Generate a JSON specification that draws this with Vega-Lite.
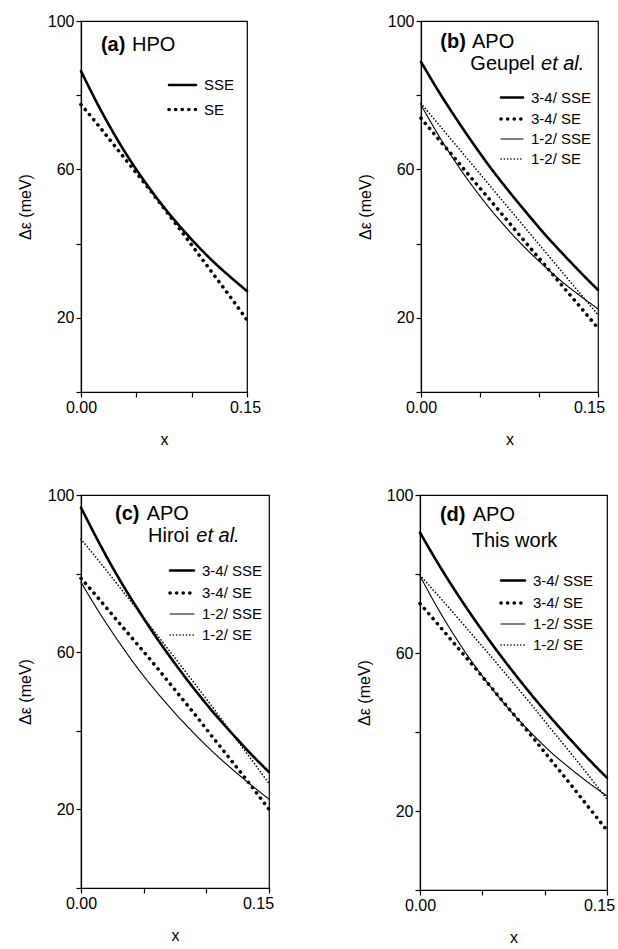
{
"$schema": "https://vega.github.io/schema/vega-lite/v6.json",
"background": "white",
"padding": {"left": 16, "top": 12, "right": 0, "bottom": 0},
"config": {
  "font": "Liberation Sans",
  "view": {"stroke": "black", "strokeWidth": 1.2},
  "axis": {"domainColor": "black", "tickColor": "black", "labelColor": "black", "titleColor": "black", "labelFontSize": 16, "titleFontSize": 16, "titleFontWeight": "normal", "grid": false, "tickSize": 5, "labelPadding": 2, "domainWidth": 1.2, "tickWidth": 1.2, "labelFont": "Liberation Sans", "titleFont": "Liberation Sans", "labelFlush": false},
  "axisY": {"titlePadding": 14},
  "axisX": {"titlePadding": 16},
  "legend": {"orient": "none", "symbolType": "stroke", "labelFontSize": 15, "labelFont": "Liberation Sans", "labelColor": "black", "symbolStrokeColor": "black", "padding": 0, "labelOffset": 6, "symbolSize": 576, "rowPadding": 0},
  "line": {"color": "black", "strokeCap": "round", "interpolate": "monotone"},
  "text": {"color": "black", "font": "Liberation Sans"}
},
"datasets": {
  "a": [
    {"x":0,"y":86.5,"s":"SSE"},{"x":0.015,"y":77.6,"s":"SSE"},{"x":0.03,"y":69.5,"s":"SSE"},{"x":0.045,"y":62.2,"s":"SSE"},{"x":0.06,"y":55.7,"s":"SSE"},{"x":0.075,"y":49.75,"s":"SSE"},{"x":0.09,"y":44.4,"s":"SSE"},{"x":0.105,"y":39.5,"s":"SSE"},{"x":0.12,"y":35.0,"s":"SSE"},{"x":0.135,"y":31.0,"s":"SSE"},{"x":0.15,"y":27.2,"s":"SSE"},
    {"x":0,"y":77.5,"s":"SE"},{"x":0.015,"y":72.1,"s":"SE"},{"x":0.03,"y":66.5,"s":"SE"},{"x":0.045,"y":60.9,"s":"SE"},{"x":0.06,"y":55.3,"s":"SE"},{"x":0.075,"y":49.5,"s":"SE"},{"x":0.09,"y":43.6,"s":"SE"},{"x":0.105,"y":37.6,"s":"SE"},{"x":0.12,"y":31.6,"s":"SE"},{"x":0.135,"y":25.6,"s":"SE"},{"x":0.15,"y":19.4,"s":"SE"}
  ],
  "b": [
    {"x":0,"y":89.0,"s":"3-4/ SSE"},{"x":0.015,"y":81.0,"s":"3-4/ SSE"},{"x":0.03,"y":73.6,"s":"3-4/ SSE"},{"x":0.045,"y":66.6,"s":"3-4/ SSE"},{"x":0.06,"y":60.0,"s":"3-4/ SSE"},{"x":0.075,"y":53.9,"s":"3-4/ SSE"},{"x":0.09,"y":48.1,"s":"3-4/ SSE"},{"x":0.105,"y":42.5,"s":"3-4/ SSE"},{"x":0.12,"y":37.3,"s":"3-4/ SSE"},{"x":0.135,"y":32.3,"s":"3-4/ SSE"},{"x":0.15,"y":27.5,"s":"3-4/ SSE"},
    {"x":0,"y":73.8,"s":"3-4/ SE"},{"x":0.015,"y":68.1,"s":"3-4/ SE"},{"x":0.03,"y":62.5,"s":"3-4/ SE"},{"x":0.045,"y":56.8,"s":"3-4/ SE"},{"x":0.06,"y":51.2,"s":"3-4/ SE"},{"x":0.075,"y":45.5,"s":"3-4/ SE"},{"x":0.09,"y":39.8,"s":"3-4/ SE"},{"x":0.105,"y":34.2,"s":"3-4/ SE"},{"x":0.12,"y":28.5,"s":"3-4/ SE"},{"x":0.135,"y":22.9,"s":"3-4/ SE"},{"x":0.15,"y":17.2,"s":"3-4/ SE"},
    {"x":0,"y":77.4,"s":"1-2/ SSE"},{"x":0.015,"y":69.1,"s":"1-2/ SSE"},{"x":0.03,"y":61.6,"s":"1-2/ SSE"},{"x":0.045,"y":54.9,"s":"1-2/ SSE"},{"x":0.06,"y":48.8,"s":"1-2/ SSE"},{"x":0.075,"y":43.3,"s":"1-2/ SSE"},{"x":0.09,"y":38.3,"s":"1-2/ SSE"},{"x":0.105,"y":33.8,"s":"1-2/ SSE"},{"x":0.12,"y":29.6,"s":"1-2/ SSE"},{"x":0.135,"y":25.9,"s":"1-2/ SSE"},{"x":0.15,"y":22.4,"s":"1-2/ SSE"},
    {"x":0,"y":77.8,"s":"1-2/ SE"},{"x":0.015,"y":72.1,"s":"1-2/ SE"},{"x":0.03,"y":66.4,"s":"1-2/ SE"},{"x":0.045,"y":60.7,"s":"1-2/ SE"},{"x":0.06,"y":55.0,"s":"1-2/ SE"},{"x":0.075,"y":49.3,"s":"1-2/ SE"},{"x":0.09,"y":43.6,"s":"1-2/ SE"},{"x":0.105,"y":37.9,"s":"1-2/ SE"},{"x":0.12,"y":32.2,"s":"1-2/ SE"},{"x":0.135,"y":26.5,"s":"1-2/ SE"},{"x":0.15,"y":20.8,"s":"1-2/ SE"}
  ],
  "c": [
    {"x":0,"y":96.8,"s":"3-4/ SSE"},{"x":0.015,"y":87.5,"s":"3-4/ SSE"},{"x":0.03,"y":78.9,"s":"3-4/ SSE"},{"x":0.045,"y":71.1,"s":"3-4/ SSE"},{"x":0.06,"y":63.8,"s":"3-4/ SSE"},{"x":0.075,"y":57.1,"s":"3-4/ SSE"},{"x":0.09,"y":50.8,"s":"3-4/ SSE"},{"x":0.105,"y":44.9,"s":"3-4/ SSE"},{"x":0.12,"y":39.5,"s":"3-4/ SSE"},{"x":0.135,"y":34.3,"s":"3-4/ SSE"},{"x":0.15,"y":29.5,"s":"3-4/ SSE"},
    {"x":0,"y":78.8,"s":"3-4/ SE"},{"x":0.015,"y":73.3,"s":"3-4/ SE"},{"x":0.03,"y":67.6,"s":"3-4/ SE"},{"x":0.045,"y":62.0,"s":"3-4/ SE"},{"x":0.06,"y":56.3,"s":"3-4/ SE"},{"x":0.075,"y":50.4,"s":"3-4/ SE"},{"x":0.09,"y":44.5,"s":"3-4/ SE"},{"x":0.105,"y":38.4,"s":"3-4/ SE"},{"x":0.12,"y":32.4,"s":"3-4/ SE"},{"x":0.135,"y":26.3,"s":"3-4/ SE"},{"x":0.15,"y":20.0,"s":"3-4/ SE"},
    {"x":0,"y":77.8,"s":"1-2/ SSE"},{"x":0.015,"y":69.9,"s":"1-2/ SSE"},{"x":0.03,"y":62.7,"s":"1-2/ SSE"},{"x":0.045,"y":56.0,"s":"1-2/ SSE"},{"x":0.06,"y":50.0,"s":"1-2/ SSE"},{"x":0.075,"y":44.5,"s":"1-2/ SSE"},{"x":0.09,"y":39.4,"s":"1-2/ SSE"},{"x":0.105,"y":34.7,"s":"1-2/ SSE"},{"x":0.12,"y":30.4,"s":"1-2/ SSE"},{"x":0.135,"y":26.4,"s":"1-2/ SSE"},{"x":0.15,"y":22.6,"s":"1-2/ SSE"},
    {"x":0,"y":88.8,"s":"1-2/ SE"},{"x":0.015,"y":82.9,"s":"1-2/ SE"},{"x":0.03,"y":76.9,"s":"1-2/ SE"},{"x":0.045,"y":70.8,"s":"1-2/ SE"},{"x":0.06,"y":64.7,"s":"1-2/ SE"},{"x":0.075,"y":58.5,"s":"1-2/ SE"},{"x":0.09,"y":52.3,"s":"1-2/ SE"},{"x":0.105,"y":46.0,"s":"1-2/ SE"},{"x":0.12,"y":39.5,"s":"1-2/ SE"},{"x":0.135,"y":33.1,"s":"1-2/ SE"},{"x":0.15,"y":26.6,"s":"1-2/ SE"}
  ],
  "d": [
    {"x":0,"y":90.5,"s":"3-4/ SSE"},{"x":0.015,"y":82.4,"s":"3-4/ SSE"},{"x":0.03,"y":74.9,"s":"3-4/ SSE"},{"x":0.045,"y":67.9,"s":"3-4/ SSE"},{"x":0.06,"y":61.3,"s":"3-4/ SSE"},{"x":0.075,"y":55.1,"s":"3-4/ SSE"},{"x":0.09,"y":49.2,"s":"3-4/ SSE"},{"x":0.105,"y":43.6,"s":"3-4/ SSE"},{"x":0.12,"y":38.3,"s":"3-4/ SSE"},{"x":0.135,"y":33.2,"s":"3-4/ SSE"},{"x":0.15,"y":28.4,"s":"3-4/ SSE"},
    {"x":0,"y":72.5,"s":"3-4/ SE"},{"x":0.015,"y":67.05,"s":"3-4/ SE"},{"x":0.03,"y":61.45,"s":"3-4/ SE"},{"x":0.045,"y":55.9,"s":"3-4/ SE"},{"x":0.06,"y":50.2,"s":"3-4/ SE"},{"x":0.075,"y":44.5,"s":"3-4/ SE"},{"x":0.09,"y":38.8,"s":"3-4/ SE"},{"x":0.105,"y":32.9,"s":"3-4/ SE"},{"x":0.12,"y":27.05,"s":"3-4/ SE"},{"x":0.135,"y":21.05,"s":"3-4/ SE"},{"x":0.15,"y":15.1,"s":"3-4/ SE"},
    {"x":0,"y":79.5,"s":"1-2/ SSE"},{"x":0.015,"y":70.9,"s":"1-2/ SSE"},{"x":0.03,"y":63.2,"s":"1-2/ SSE"},{"x":0.045,"y":56.3,"s":"1-2/ SSE"},{"x":0.06,"y":50.1,"s":"1-2/ SSE"},{"x":0.075,"y":44.5,"s":"1-2/ SSE"},{"x":0.09,"y":39.5,"s":"1-2/ SSE"},{"x":0.105,"y":34.9,"s":"1-2/ SSE"},{"x":0.12,"y":30.9,"s":"1-2/ SSE"},{"x":0.135,"y":27.2,"s":"1-2/ SSE"},{"x":0.15,"y":23.8,"s":"1-2/ SSE"},
    {"x":0,"y":79.7,"s":"1-2/ SE"},{"x":0.015,"y":74.4,"s":"1-2/ SE"},{"x":0.03,"y":69.0,"s":"1-2/ SE"},{"x":0.045,"y":63.5,"s":"1-2/ SE"},{"x":0.06,"y":58.0,"s":"1-2/ SE"},{"x":0.075,"y":52.35,"s":"1-2/ SE"},{"x":0.09,"y":46.7,"s":"1-2/ SE"},{"x":0.105,"y":40.8,"s":"1-2/ SE"},{"x":0.12,"y":35.0,"s":"1-2/ SE"},{"x":0.135,"y":29.1,"s":"1-2/ SE"},{"x":0.15,"y":23.0,"s":"1-2/ SE"}
  ]
},
"resolve": {"scale": {"x": "independent", "y": "independent", "strokeDash": "independent", "strokeWidth": "independent"}, "legend": {"strokeDash": "independent", "strokeWidth": "independent"}},
"spacing": 38,
"vconcat": [
 {
  "spacing": 94,
  "resolve": {"scale": {"x": "independent", "y": "independent", "strokeDash": "independent", "strokeWidth": "independent"}, "legend": {"strokeDash": "independent", "strokeWidth": "independent"}},
  "hconcat": [
   {
    "width": 166, "height": 371,
    "layer": [
     {
      "data": {"name": "a"},
      "mark": {"type": "line"},
      "encoding": {
        "x": {"field": "x", "type": "quantitative", "scale": {"domain": [0, 0.15], "nice": false, "zero": false}, "axis": {"title": "x", "values": [0, 0.05, 0.1, 0.15], "labelExpr": "datum.value == 0 || datum.value > 0.14 ? format(datum.value, '.2f') : ''", "labelOffset": {"condition": {"test": "datum.value > 0.14", "value": -2}, "value": 0}}},
        "y": {"field": "y", "type": "quantitative", "scale": {"domain": [0, 100], "nice": false}, "axis": {"title": "Δε (meV)", "values": [0, 20, 40, 60, 80, 100], "labelExpr": "datum.value % 40 == 20 ? datum.label : ''"}},
        "detail": {"field": "s"},
        "strokeDash": {"field": "s", "type": "nominal", "scale": {"domain": ["SSE", "SE"], "range": [[1, 0], [0.1, 6.5]]}, "legend": {"title": null, "legendX": 86, "legendY": 49, "symbolSize": 729, "rowPadding": 1, "encode": {"symbols": {"update": {"strokeCap": {"value": "round"}}}}}},
        "strokeWidth": {"field": "s", "type": "nominal", "scale": {"type": "ordinal", "domain": ["SSE", "SE"], "range": [2.6, 3.6]}, "legend": {"title": null, "legendX": 86, "legendY": 49, "symbolSize": 729, "rowPadding": 1, "encode": {"symbols": {"update": {"strokeCap": {"value": "round"}}}}}}
      }
     },
     {"data": {"values": [{"t": "(a)"}]}, "mark": {"type": "text", "fontSize": 20, "fontWeight": "bold", "align": "left", "baseline": "alphabetic"}, "encoding": {"x": {"datum": 0.018}, "y": {"datum": 92}, "text": {"field": "t"}}},
     {"data": {"values": [{"t": "HPO"}]}, "mark": {"type": "text", "fontSize": 20, "align": "left", "baseline": "alphabetic"}, "encoding": {"x": {"datum": 0.0461}, "y": {"datum": 92}, "text": {"field": "t"}}}
    ]
   },
   {
    "width": 177, "height": 371,
    "layer": [
     {
      "data": {"name": "b"},
      "mark": {"type": "line"},
      "encoding": {
        "x": {"field": "x", "type": "quantitative", "scale": {"domain": [0, 0.15], "nice": false, "zero": false}, "axis": {"title": "x", "values": [0, 0.05, 0.1, 0.15], "labelExpr": "datum.value == 0 || datum.value > 0.14 ? format(datum.value, '.2f') : ''", "labelOffset": {"condition": {"test": "datum.value > 0.14", "value": -9}, "value": 0}}},
        "y": {"field": "y", "type": "quantitative", "scale": {"domain": [0, 100], "nice": false}, "axis": {"title": "Δε (meV)", "values": [0, 20, 40, 60, 80, 100], "labelExpr": "datum.value % 40 == 20 ? datum.label : ''"}},
        "detail": {"field": "s"},
        "strokeDash": {"field": "s", "type": "nominal", "scale": {"domain": ["3-4/ SSE", "3-4/ SE", "1-2/ SSE", "1-2/ SE"], "range": [[1, 0], [0.1, 6.5], [1, 0], [0.1, 3.2]]}, "legend": {"title": null, "legendX": 78, "legendY": 64, "symbolSize": 484, "rowPadding": -6, "encode": {"symbols": {"update": {"strokeCap": {"value": "round"}}}}}},
        "strokeWidth": {"field": "s", "type": "nominal", "scale": {"type": "ordinal", "domain": ["3-4/ SSE", "3-4/ SE", "1-2/ SSE", "1-2/ SE"], "range": [2.6, 3.6, 1.1, 1.6]}, "legend": {"title": null, "legendX": 78, "legendY": 64, "symbolSize": 484, "rowPadding": -6, "encode": {"symbols": {"update": {"strokeCap": {"value": "round"}}}}}}
      }
     },
     {"data": {"values": [{"t": "(b)"}]}, "mark": {"type": "text", "fontSize": 20, "fontWeight": "bold", "align": "left", "baseline": "alphabetic"}, "encoding": {"x": {"datum": 0.0164}, "y": {"datum": 92.6}, "text": {"field": "t"}}},
     {"data": {"values": [{"t": "APO"}]}, "mark": {"type": "text", "fontSize": 20, "align": "left", "baseline": "alphabetic"}, "encoding": {"x": {"datum": 0.0432}, "y": {"datum": 92.6}, "text": {"field": "t"}}},
     {"data": {"values": [{"t": "Geupel"}]}, "mark": {"type": "text", "fontSize": 20, "align": "left", "baseline": "alphabetic"}, "encoding": {"x": {"datum": 0.0418}, "y": {"datum": 86.8}, "text": {"field": "t"}}},
     {"data": {"values": [{"t": "et al."}]}, "mark": {"type": "text", "fontSize": 20, "fontStyle": "italic", "align": "left", "baseline": "alphabetic"}, "encoding": {"x": {"datum": 0.1017}, "y": {"datum": 86.8}, "text": {"field": "t"}}}
    ]
   }
  ]
 },
 {
  "spacing": 78,
  "resolve": {"scale": {"x": "independent", "y": "independent", "strokeDash": "independent", "strokeWidth": "independent"}, "legend": {"strokeDash": "independent", "strokeWidth": "independent"}},
  "hconcat": [
   {
    "width": 188, "height": 393,
    "layer": [
     {
      "data": {"name": "c"},
      "mark": {"type": "line"},
      "encoding": {
        "x": {"field": "x", "type": "quantitative", "scale": {"domain": [0, 0.15], "nice": false, "zero": false}, "axis": {"title": "x", "values": [0, 0.05, 0.1, 0.15], "labelExpr": "datum.value == 0 || datum.value > 0.14 ? format(datum.value, '.2f') : ''", "labelOffset": {"condition": {"test": "datum.value > 0.14", "value": -11}, "value": 0}}},
        "y": {"field": "y", "type": "quantitative", "scale": {"domain": [0, 100], "nice": false}, "axis": {"title": "Δε (meV)", "values": [0, 20, 40, 60, 80, 100], "labelExpr": "datum.value % 40 == 20 ? datum.label : ''"}},
        "detail": {"field": "s"},
        "strokeDash": {"field": "s", "type": "nominal", "scale": {"domain": ["3-4/ SSE", "3-4/ SE", "1-2/ SSE", "1-2/ SE"], "range": [[1, 0], [0.1, 6.5], [1, 0], [0.1, 3.2]]}, "legend": {"title": null, "legendX": 87, "legendY": 62, "symbolSize": 576, "rowPadding": -5, "encode": {"symbols": {"update": {"strokeCap": {"value": "round"}}}}}},
        "strokeWidth": {"field": "s", "type": "nominal", "scale": {"type": "ordinal", "domain": ["3-4/ SSE", "3-4/ SE", "1-2/ SSE", "1-2/ SE"], "range": [2.6, 3.6, 1.1, 1.6]}, "legend": {"title": null, "legendX": 87, "legendY": 62, "symbolSize": 576, "rowPadding": -5, "encode": {"symbols": {"update": {"strokeCap": {"value": "round"}}}}}}
      }
     },
     {"data": {"values": [{"t": "(c)"}]}, "mark": {"type": "text", "fontSize": 20, "fontWeight": "bold", "align": "left", "baseline": "alphabetic"}, "encoding": {"x": {"datum": 0.0271}, "y": {"datum": 93.7}, "text": {"field": "t"}}},
     {"data": {"values": [{"t": "APO"}]}, "mark": {"type": "text", "fontSize": 20, "align": "left", "baseline": "alphabetic"}, "encoding": {"x": {"datum": 0.0524}, "y": {"datum": 93.7}, "text": {"field": "t"}}},
     {"data": {"values": [{"t": "Hiroi"}]}, "mark": {"type": "text", "fontSize": 20, "align": "left", "baseline": "alphabetic"}, "encoding": {"x": {"datum": 0.0535}, "y": {"datum": 88.0}, "text": {"field": "t"}}},
     {"data": {"values": [{"t": "et al."}]}, "mark": {"type": "text", "fontSize": 20, "fontStyle": "italic", "align": "left", "baseline": "alphabetic"}, "encoding": {"x": {"datum": 0.092}, "y": {"datum": 88.0}, "text": {"field": "t"}}}
    ]
   },
   {
    "width": 187, "height": 395,
    "layer": [
     {
      "data": {"name": "d"},
      "mark": {"type": "line"},
      "encoding": {
        "x": {"field": "x", "type": "quantitative", "scale": {"domain": [0, 0.15], "nice": false, "zero": false}, "axis": {"title": "x", "values": [0, 0.05, 0.1, 0.15], "labelExpr": "datum.value == 0 || datum.value > 0.14 ? format(datum.value, '.2f') : ''", "labelOffset": {"condition": {"test": "datum.value > 0.14", "value": -8}, "value": 0}}},
        "y": {"field": "y", "type": "quantitative", "scale": {"domain": [0, 100], "nice": false}, "axis": {"title": "Δε (meV)", "values": [0, 20, 40, 60, 80, 100], "labelExpr": "datum.value % 40 == 20 ? datum.label : ''"}},
        "detail": {"field": "s"},
        "strokeDash": {"field": "s", "type": "nominal", "scale": {"domain": ["3-4/ SSE", "3-4/ SE", "1-2/ SSE", "1-2/ SE"], "range": [[1, 0], [0.1, 6.5], [1, 0], [0.1, 3.2]]}, "legend": {"title": null, "legendX": 79, "legendY": 72, "symbolSize": 576, "rowPadding": -6, "encode": {"symbols": {"update": {"strokeCap": {"value": "round"}}}}}},
        "strokeWidth": {"field": "s", "type": "nominal", "scale": {"type": "ordinal", "domain": ["3-4/ SSE", "3-4/ SE", "1-2/ SSE", "1-2/ SE"], "range": [2.6, 3.6, 1.1, 1.6]}, "legend": {"title": null, "legendX": 79, "legendY": 72, "symbolSize": 576, "rowPadding": -6, "encode": {"symbols": {"update": {"strokeCap": {"value": "round"}}}}}}
      }
     },
     {"data": {"values": [{"t": "(d)"}]}, "mark": {"type": "text", "fontSize": 20, "fontWeight": "bold", "align": "left", "baseline": "alphabetic"}, "encoding": {"x": {"datum": 0.016}, "y": {"datum": 93.4}, "text": {"field": "t"}}},
     {"data": {"values": [{"t": "APO"}]}, "mark": {"type": "text", "fontSize": 20, "align": "left", "baseline": "alphabetic"}, "encoding": {"x": {"datum": 0.0423}, "y": {"datum": 93.4}, "text": {"field": "t"}}},
     {"data": {"values": [{"t": "This work"}]}, "mark": {"type": "text", "fontSize": 20, "align": "left", "baseline": "alphabetic"}, "encoding": {"x": {"datum": 0.0415}, "y": {"datum": 86.8}, "text": {"field": "t"}}}
    ]
   }
  ]
 }
]
}
